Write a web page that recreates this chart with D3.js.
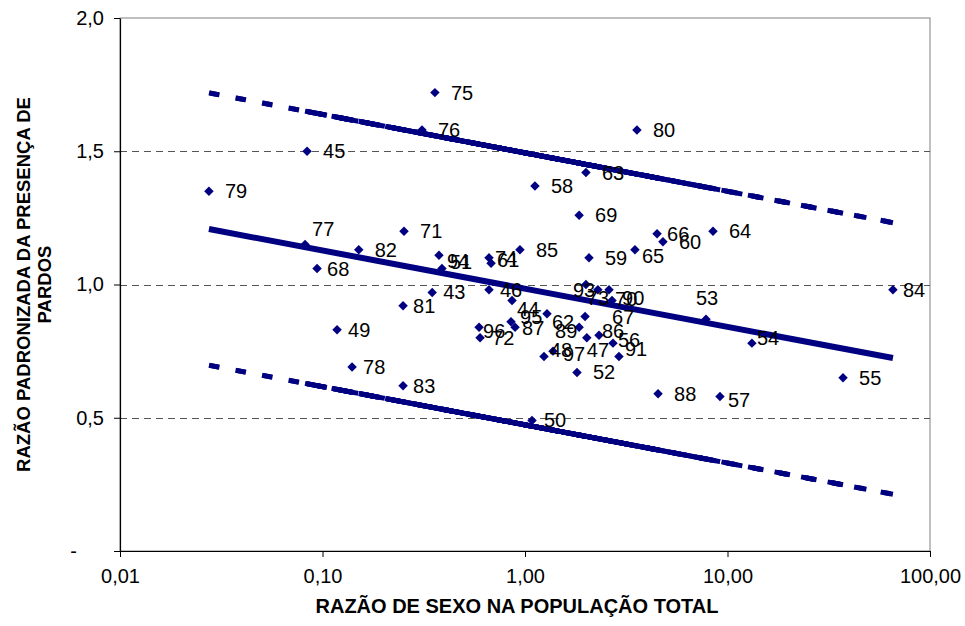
<!DOCTYPE html>
<html>
<head>
<meta charset="utf-8">
<script src="https://cdn.jsdelivr.net/npm/d3@7"></script>
<style>
  body { margin: 0; background: #fff; }
  svg { display: block; }
  text { font-family: "Liberation Sans", Arial, sans-serif; }
</style>
</head>
<body>
<svg id="chart" width="965" height="626"></svg>
<script>
// Area codes, in the order of the data rows
const ids = [43, 44, 45, 46, 47, 48, 49, 50, 51, 52, 53, 54, 55, 56, 57, 58, 59, 60,
             61, 62, 63, 64, 65, 66, 67, 68, 69, 70, 71, 72, 73, 74, 75, 76, 77, 78,
             79, 80, 81, 82, 83, 84, 85, 86, 87, 88, 89, 90, 91, 93, 94, 95, 96, 97];

// Sex ratio in the total population (log axis)
const sexRatio = [0.348, 0.863, 0.0839, 0.664, 2.02, 1.241, 0.118, 1.083, 0.389, 1.806,
                  7.83, 13.2, 37.2, 2.72, 9.18, 1.12, 2.07, 4.80,
                  0.680, 1.284, 2.00, 8.48, 3.49, 4.49, 1.98, 0.094, 1.85, 2.60, 0.2527, 0.600,
                  2.29, 0.664, 0.359, 0.310, 0.082, 0.140,
                  0.0275, 3.57, 0.250, 0.151, 0.250, 65.6, 0.944, 2.32, 0.893, 4.54, 1.85, 2.69,
                  2.91, 2.00, 0.376, 0.853, 0.593, 1.375];

// Standardised ratio of the presence of "pardos"
const pardosRatio = [0.97, 0.94, 1.50, 0.98, 0.80, 0.73, 0.83, 0.49, 1.06, 0.67,
                     0.87, 0.78, 0.65, 0.78, 0.58, 1.37, 1.10, 1.16,
                     1.08, 0.89, 1.42, 1.20, 1.13, 1.19, 0.88, 1.06, 1.26, 0.98, 1.20, 0.80,
                     0.98, 1.10, 1.72, 1.58, 1.15, 0.69,
                     1.35, 1.58, 0.92, 1.13, 0.62, 0.98, 1.13, 0.81, 0.84, 0.59, 0.84, 0.94,
                     0.73, 1.00, 1.11, 0.86, 0.84, 0.75];

// Fitted trend (log x) and its upper / lower limits, at the ends of the x range
const fitX = [0.0275, 65.6];
const fitMid = [1.208, 0.724];
const fitUpper = [1.719, 1.232];
const fitLower = [0.697, 0.213];

const xTicks = [0.01, 0.1, 1, 10, 100];
const xTickLabels = ["0,01", "0,10", "1,00", "10,00", "100,00"];
const yTicks = [0, 0.5, 1, 1.5, 2];
const yTickLabels = ["-", "0,5", "1,0", "1,5", "2,0"];
const gridValues = [0.5, 1, 1.5];

const xTitle = "RAZÃO DE SEXO NA POPULAÇÃO TOTAL";
const yTitleLines = ["RAZÃO PADRONIZADA DA PRESENÇA DE", "PARDOS"];

// Label placement (offset of the label's left edge / centre from its marker)
const labelOffsetDefault = [16, 0];
const labelOffset = {
  44: [5, 9], 95: [9, -5], 87: [7, 1], 96: [4, 4], 72: [12, 0], 62: [5, 8],
  89: [-24, 4], 67: [27, 1], 86: [3, -4], 56: [5, -3], 91: [6, -7], 47: [0, 12],
  48: [6, -6], 97: [10, 3], 93: [-13, 5], 73: [-11, 8], 70: [6, 9], 90: [10, -2],
  46: [11, 0], 43: [11, 0], 81: [10, 0], 74: [6, 0], 61: [6, -3], 94: [8, 6],
  51: [8, -7], 65: [7, 6], 66: [10, 0], 53: [-10, -21], 54: [5, -5], 57: [8, 4],
  84: [10, 0], 77: [7, -16], 68: [10, 0], 49: [11, 0], 78: [11, 0], 83: [10, 0],
  50: [12, 0]
};

const W = 965, H = 626;
const margin = { top: 18, right: 35, bottom: 75, left: 120 };
const navy = "#000080";

const svg = d3.select("#chart");

const x = d3.scaleLog().domain([0.01, 100]).range([margin.left, W - margin.right]);
const y = d3.scaleLinear().domain([0, 2]).range([H - margin.bottom, margin.top]);

// plot frame
svg.append("rect")
  .attr("x", margin.left).attr("y", margin.top)
  .attr("width", W - margin.left - margin.right)
  .attr("height", H - margin.top - margin.bottom)
  .attr("fill", "none").attr("stroke", "#808080").attr("stroke-width", 1);

// horizontal gridlines
svg.append("g").selectAll("line").data(gridValues).join("line")
  .attr("x1", margin.left).attr("x2", W - margin.right)
  .attr("y1", d => Math.round(y(d)) + 0.5).attr("y2", d => Math.round(y(d)) + 0.5)
  .attr("stroke", "#555").attr("stroke-width", 1).attr("stroke-dasharray", "7,5");

// axes
const xAxis = svg.append("g")
  .attr("transform", `translate(0,${y(0)})`)
  .call(d3.axisBottom(x).tickValues(xTicks).tickFormat((d, i) => xTickLabels[i])
    .tickSize(6).tickSizeOuter(0).tickPadding(12));
const yAxis = svg.append("g")
  .attr("transform", `translate(${margin.left},0)`)
  .call(d3.axisLeft(y).tickValues(yTicks).tickFormat((d, i) => yTickLabels[i])
    .tickSize(6).tickSizeOuter(0).tickPadding(10));
[xAxis, yAxis].forEach(a => {
  a.select(".domain").attr("stroke", "#000").attr("stroke-width", 1.2);
  a.selectAll(".tick line").attr("stroke", "#000");
  a.selectAll(".tick text").attr("fill", "#000").style("font-size", "20px")
    .style("font-family", '"Liberation Sans", Arial, sans-serif');
});
yAxis.selectAll(".tick text").filter(d => d === 0).attr("dx", -27);

// markers
const diamond = { draw(ctx, size) { const r = Math.sqrt(size) / 2;
  ctx.moveTo(0, -r); ctx.lineTo(r, 0); ctx.lineTo(0, r); ctx.lineTo(-r, 0); ctx.closePath(); } };
const points = ids.map((id, i) => ({ id, sx: sexRatio[i], p: pardosRatio[i] }));

svg.append("g").selectAll("path").data(points).join("path")
  .attr("transform", d => `translate(${x(d.sx)},${y(d.p)})`)
  .attr("d", d3.symbol(diamond, 90))
  .attr("fill", navy);

// trend and limit lines
const logFit = fitX.map(Math.log10);
svg.append("line")
  .attr("x1", x(fitX[0])).attr("y1", y(fitMid[0]))
  .attr("x2", x(fitX[1])).attr("y2", y(fitMid[1]))
  .attr("stroke", navy).attr("stroke-width", 6);

// limit lines run through every row's x value in row order; each segment
// starts its own dash pattern
[fitUpper, fitLower].forEach(vals => {
  const f = d3.scaleLinear().domain(logFit).range(vals);
  const pts = sexRatio.map(v => [x(v), y(f(Math.log10(v)))]);
  svg.append("g").selectAll("line").data(d3.pairs(pts)).join("line")
    .attr("x1", d => d[0][0]).attr("y1", d => d[0][1])
    .attr("x2", d => d[1][0]).attr("y2", d => d[1][1])
    .attr("stroke", navy).attr("stroke-width", 5)
    .attr("stroke-dasharray", "10,17");
});

// point labels
svg.append("g").selectAll("text").data(points).join("text")
  .attr("x", d => x(d.sx) + (labelOffset[d.id] || labelOffsetDefault)[0])
  .attr("y", d => y(d.p) + (labelOffset[d.id] || labelOffsetDefault)[1])
  .attr("dy", "0.35em")
  .style("font-size", "20px").attr("fill", "#000")
  .text(d => d.id);

// axis titles
svg.append("text")
  .attr("x", 517).attr("y", 613)
  .attr("text-anchor", "middle")
  .style("font-size", "20px").style("font-weight", "bold")
  .text(xTitle);

const yt = svg.append("text")
  .attr("transform", `translate(30,${(margin.top + H - margin.bottom) / 2}) rotate(-90)`)
  .attr("text-anchor", "middle")
  .style("font-size", "18.5px").style("font-weight", "bold");
yt.selectAll("tspan").data(yTitleLines).join("tspan")
  .attr("x", 0).attr("dy", (d, i) => i === 0 ? 0 : "1.15em")
  .text(d => d);
</script>
</body>
</html>
